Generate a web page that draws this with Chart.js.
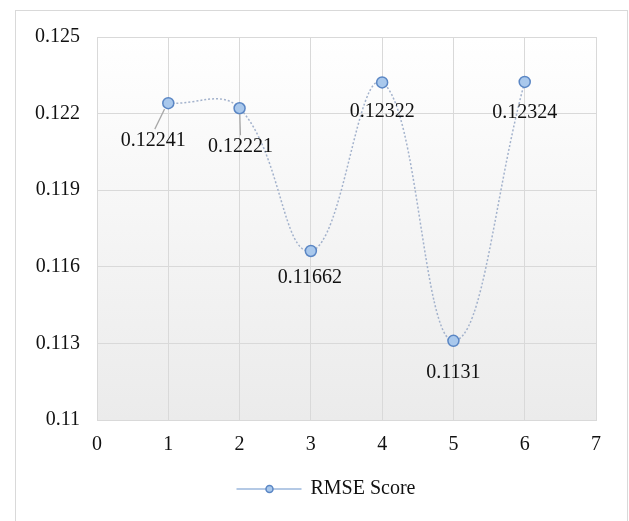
<!DOCTYPE html>
<html>
<head>
<meta charset="utf-8">
<script src="https://cdn.jsdelivr.net/npm/chart.js@4"></script>
<style>
  html, body { margin: 0; padding: 0; background: #fff; }
  #wrap { width: 629px; height: 521px; }
</style>
</head>
<body>
<div id="wrap"><canvas id="rmseChart" width="629" height="521"></canvas></div>
<script>
const xValues = [1, 2, 3, 4, 5, 6]
const rmseScores = [0.12241, 0.12221, 0.11662, 0.12322, 0.1131, 0.12324]
const scoreLabels = ['0.12241', '0.12221', '0.11662', '0.12322', '0.1131', '0.12324']
const seriesName = 'RMSE Score'

// label offsets from each point, in pixels
const labelOffsets = [[-15, 38], [1, 39], [-1, 27], [0, 29], [0, 32], [0, 31]]
const leaderLines = [true, true, false, false, false, false]

const serif = "'Liberation Serif', 'DejaVu Serif', serif"

const frame = {
    id: 'frame',
    beforeDraw(chart) {
        const ctx = chart.ctx
        const a = chart.chartArea
        ctx.save()
        ctx.fillStyle = '#fff'
        ctx.fillRect(0, 0, chart.width, chart.height)
        ctx.strokeStyle = '#d9d9d9'
        ctx.lineWidth = 1
        ctx.strokeRect(15.5, 10.5, 612, 530)
        const g = ctx.createLinearGradient(0, a.top, 0, a.bottom)
        g.addColorStop(0, '#ffffff')
        g.addColorStop(1, '#ebebeb')
        ctx.fillStyle = g
        ctx.fillRect(a.left, a.top, a.right - a.left, a.bottom - a.top)
        ctx.restore()
    },
    afterDatasetsDraw(chart) {
        const ctx = chart.ctx
        const meta = chart.getDatasetMeta(0)
        ctx.save()
        ctx.font = '20px ' + serif
        ctx.fillStyle = '#111'
        ctx.textAlign = 'center'
        ctx.textBaseline = 'middle'
        meta.data.forEach((pt, i) => {
            const lx = pt.x + labelOffsets[i][0]
            const ly = pt.y + labelOffsets[i][1]
            if (leaderLines[i]) {
                ctx.strokeStyle = '#a6a6a6'
                ctx.lineWidth = 1.2
                ctx.beginPath()
                ctx.moveTo(pt.x + (lx - pt.x) * 0.25, pt.y + 6)
                ctx.lineTo(lx + (pt.x - lx) * 0.1, ly - 12)
                ctx.stroke()
            }
            ctx.fillText(scoreLabels[i], lx, ly)
        })
        // legend
        const cx = 326, cy = 489
        ctx.font = '20px ' + serif
        ctx.textAlign = 'left'
        const tw = ctx.measureText(seriesName).width
        const x0 = cx - (65 + 9 + tw) / 2
        ctx.strokeStyle = '#9bb7dd'
        ctx.lineWidth = 1.5
        ctx.beginPath()
        ctx.moveTo(x0, cy)
        ctx.lineTo(x0 + 65, cy)
        ctx.stroke()
        ctx.beginPath()
        ctx.arc(x0 + 33, cy, 3.5, 0, Math.PI * 2)
        ctx.fillStyle = '#a9c8ec'
        ctx.fill()
        ctx.strokeStyle = '#5a86c4'
        ctx.stroke()
        ctx.fillStyle = '#111'
        ctx.fillText(seriesName, x0 + 74, cy)
        ctx.restore()
    }
}

new Chart(document.getElementById('rmseChart'), {
    type: 'scatter',
    data: {
        datasets: [{
            label: seriesName,
            data: xValues.map((x, i) => ({ x: x, y: rmseScores[i] })),
            showLine: true,
            borderColor: '#a3b2cc',
            borderWidth: 1.5,
            borderDash: [2, 2],
            tension: 0.42,
            pointRadius: 5.5,
            pointBackgroundColor: '#a9c8ec',
            pointBorderColor: '#5a86c4',
            pointBorderWidth: 1.5
        }]
    },
    options: {
        responsive: false,
        animation: false,
        devicePixelRatio: 1,
        layout: { padding: { left: 0, top: 37, right: 33, bottom: 0 } },
        plugins: { legend: { display: false }, tooltip: { enabled: false } },
        scales: {
            x: {
                min: 0,
                max: 7,
                ticks: { stepSize: 1, padding: 13, color: '#111', font: { family: serif, size: 20 } },
                grid: { color: '#d9d9d9', drawTicks: false },
                border: { color: '#d9d9d9' },
                afterFit(scale) { scale.height = 101 }
            },
            y: {
                min: 0.11,
                max: 0.125,
                ticks: {
                    stepSize: 0.003,
                    padding: 17,
                    color: '#111',
                    font: { family: serif, size: 20 },
                    callback: v => String(+v.toFixed(3))
                },
                grid: { color: '#d9d9d9', drawTicks: false },
                border: { color: '#d9d9d9' },
                afterFit(scale) { scale.width = 97 }
            }
        }
    },
    plugins: [frame]
})
</script>
</body>
</html>
